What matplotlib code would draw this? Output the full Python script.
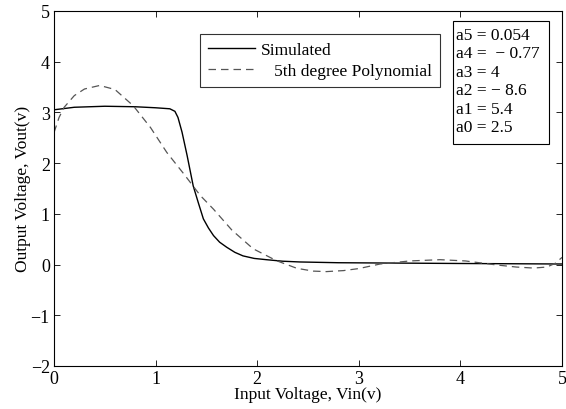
import matplotlib
matplotlib.use('Agg')
import matplotlib.pyplot as plt
from matplotlib.patches import Rectangle
import numpy as np

plt.rcParams['font.family'] = ['Liberation Serif', 'DejaVu Serif']
plt.rcParams['axes.unicode_minus'] = True

# simulated inverter output
vin_sim = [0.0, 0.2, 0.5, 0.8, 1.0, 1.14, 1.19, 1.22, 1.26, 1.31, 1.37, 1.42, 1.47,
           1.52, 1.57, 1.63, 1.70, 1.78, 1.86, 1.97, 2.09, 2.25, 2.42, 2.8, 3.2, 3.6, 4.0, 4.5, 5.0]
vout_sim = [3.05, 3.10, 3.12, 3.11, 3.09, 3.07, 3.02, 2.90, 2.61, 2.15, 1.55, 1.22, 0.90,
            0.72, 0.57, 0.44, 0.34, 0.24, 0.17, 0.12, 0.095, 0.065, 0.05, 0.035, 0.03, 0.025, 0.02, 0.015, 0.01]

# 5th degree polynomial fit
vin_fit = [0.0, 0.05, 0.1, 0.2, 0.3, 0.45, 0.6, 0.78, 0.95, 1.11, 1.28, 1.44, 1.57, 1.75,
           1.96, 2.19, 2.39, 2.55, 2.68, 2.85, 3.0, 3.21, 3.5, 3.8, 4.05, 4.36, 4.55, 4.72, 4.85, 4.93, 5.0]
vout_fit = [2.6, 2.9, 3.1, 3.33, 3.46, 3.53, 3.45, 3.13, 2.7, 2.21, 1.78, 1.36, 1.09, 0.68,
            0.31, 0.075, -0.075, -0.13, -0.14, -0.12, -0.08, 0.01, 0.07, 0.095, 0.07, -0.01, -0.05, -0.07, -0.05, 0.02, 0.14]

coef_names = ['a5', 'a4', 'a3', 'a2', 'a1', 'a0']
coef_text = ['0.054', ' \u2212 0.77', '4', '\u2212 8.6', '5.4', '2.5']

fig = plt.figure(figsize=(5.66, 4.10), dpi=100)
ax = fig.add_axes([0.0954, 0.105, 0.8976, 0.866])

ax.plot(vin_sim, vout_sim, color='black', linewidth=1.0, label='Simulated')
ax.plot(vin_fit, vout_fit, color='#555555', linewidth=0.9, linestyle=(0, (6, 4)),
        label='   5th degree Polynomial')

ax.set_xlim(0, 5)
ax.set_ylim(-2, 5)
ax.set_xticks(range(0, 6))
ax.set_yticks(range(-2, 6))
ax.tick_params(direction='in', top=True, right=True, labelsize=13, length=4, width=0.6, pad=3)
for s in ax.spines.values():
    s.set_linewidth(0.8)

ax.set_xlabel('Input Voltage, Vin(v)', fontsize=12.5, labelpad=-1)
ax.set_ylabel('Output Voltage, Vout(v)', fontsize=12.5, labelpad=0)

leg = ax.legend(loc='upper left', bbox_to_anchor=(200/566, 1-35/410), bbox_transform=fig.transFigure,
                fontsize=12.5, frameon=True, fancybox=False, edgecolor='black',
                handlelength=2.7, handletextpad=0.35, borderpad=0.45, labelspacing=0.3, borderaxespad=0)
leg.get_frame().set_linewidth(0.8)

# coefficient text box
fig.patches.append(Rectangle((453/566, 1-145/410), 96/566, 123/410, transform=fig.transFigure,
                             facecolor='white', edgecolor='black', linewidth=0.8, zorder=3))
lines = '\n'.join(f'{n} = {v}' for n, v in zip(coef_names, coef_text))
fig.text(456/566, 1-28/410, lines, fontsize=12.5, va='top', ha='left', linespacing=1.2, zorder=4)

fig.savefig('out.png', dpi=100)
